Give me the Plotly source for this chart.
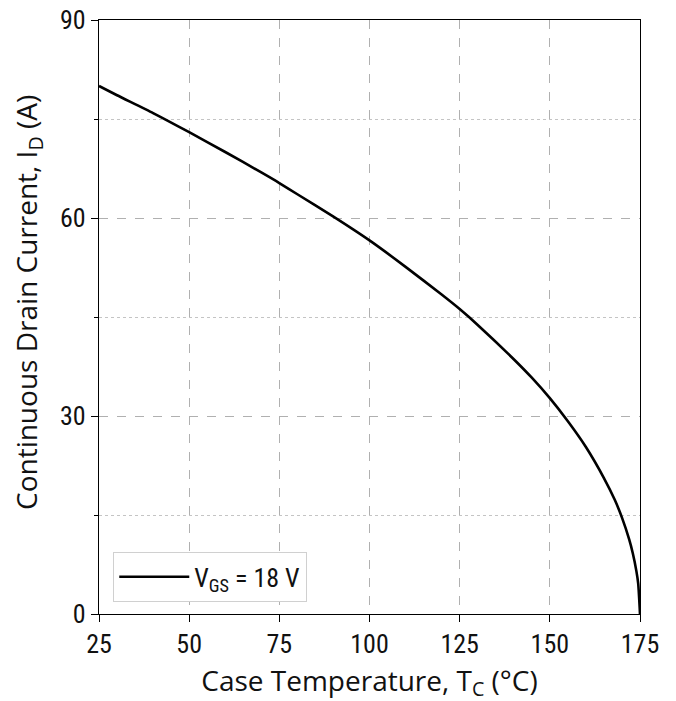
import plotly.graph_objects as go

temp_c = [25, 30, 40, 50, 60, 70, 75, 80, 90, 100, 110, 120, 125, 130, 140, 145,
          150, 155, 160, 165, 168, 170, 172, 173, 174, 174.5, 175]
drain_a = [80.0, 78.6, 75.9, 73.0, 70.0, 66.9, 65.3, 63.6, 60.2, 56.6, 52.6, 48.4, 46.2,
           43.8, 38.6, 35.8, 32.7, 29.2, 25.3, 20.6, 17.3, 14.6, 11.3, 9.2, 6.5, 4.6, 0.0]
x_ticks = [25, 50, 75, 100, 125, 150, 175]
y_ticks = [0, 30, 60, 90]
series_name = "V<sub>GS</sub> = 18 V"
x_title = "Case Temperature, T<sub>C</sub> (°C)"
y_title = "Continuous Drain Current, I<sub>D</sub> (A)"

tick_font = dict(family="Roboto Condensed, Roboto", size=26, color="#111")
title_font = dict(family="Open Sans, Noto Sans", size=28, color="#111")
grid_col = "#b0b0b0"

fig = go.Figure()
fig.add_trace(go.Scatter(x=temp_c, y=drain_a, mode="lines", name=series_name,
                         line=dict(color="black", width=2.6, shape="spline", smoothing=0.6)))

fig.update_layout(
    width=676, height=701,
    margin=dict(l=91, r=44, t=12, b=95),
    paper_bgcolor="white", plot_bgcolor="white",
    showlegend=True,
    legend=dict(x=0.026, y=0.02, xanchor="left", yanchor="bottom",
                bgcolor="white", bordercolor="#d0d0d0", borderwidth=1.2,
                font=dict(family="Roboto Condensed, Roboto", size=26, color="#111"),
                itemwidth=70, tracegroupgap=0),
)
fig.add_annotation(text=y_title, xref="paper", yref="paper", x=-71 / 541, y=311 / 594,
                   xanchor="center", yanchor="middle", textangle=-90, showarrow=False,
                   font=title_font)
fig.update_xaxes(
    range=[25, 175], tickvals=x_ticks, ticktext=[str(v) for v in x_ticks],
    showline=True, linecolor="black", linewidth=1.4, mirror=True,
    ticks="outside", ticklen=7, tickcolor="black", tickwidth=1.3,
    showgrid=True, gridcolor=grid_col, griddash="dash", gridwidth=1,
    zeroline=False, tickfont=tick_font, automargin=False, ticklabeloverflow="allow",
    title=dict(text=x_title, font=title_font, standoff=12),
)
fig.update_yaxes(
    range=[0, 90], tickvals=y_ticks, ticktext=[str(v) for v in y_ticks],
    showline=True, linecolor="black", linewidth=1.4, mirror=True,
    ticks="outside", ticklen=7, tickcolor="black", tickwidth=1.3,
    showgrid=True, gridcolor=grid_col, griddash="dash", gridwidth=1,
    zeroline=False, tickfont=tick_font, automargin=False, ticklabeloverflow="allow",
    minor=dict(tickvals=[15, 45, 75], ticks="outside", ticklen=4, tickcolor="black",
               showgrid=True, gridcolor="#c4c4c4", griddash="dot", gridwidth=1),
)

fig.write_html("out.html")
